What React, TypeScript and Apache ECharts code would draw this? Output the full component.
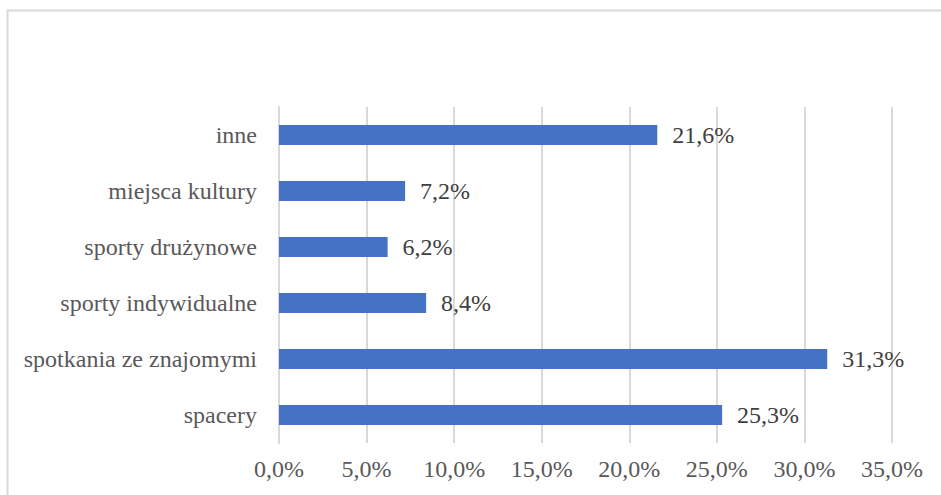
import React, { useEffect, useRef } from "react";
import * as echarts from "echarts";

const categories = ["spacery", "spotkania ze znajomymi", "sporty indywidualne", "sporty drużynowe", "miejsca kultury", "inne"];
const values = [25.3, 31.3, 8.4, 6.2, 7.2, 21.6];
const xTicks = [0, 5, 10, 15, 20, 25, 30, 35];

const FONT = "Liberation Serif";
const fmt = (v: number) => v.toFixed(1).replace(".", ",") + "%";

export default function App() {
  const ref = useRef<HTMLDivElement>(null);
  useEffect(() => {
    const chart = echarts.init(ref.current!, null, { renderer: "svg" });
    chart.setOption({
      animation: false,
      backgroundColor: "#ffffff",
      textStyle: { fontFamily: FONT },
      graphic: [
        {
          type: "rect",
          shape: { x: 7.5, y: 10.5, width: 1000, height: 600 },
          style: { fill: "none", stroke: "#d9d9d9", lineWidth: 2 },
          silent: true,
        },
      ],
      grid: { left: 279, right: 49, top: 107, bottom: 52, containLabel: false },
      xAxis: {
        type: "value",
        min: xTicks[0],
        max: xTicks[xTicks.length - 1],
        interval: 5,
        axisLine: { show: false },
        axisTick: { show: false },
        splitLine: { show: true, lineStyle: { color: "#d9d9d9", width: 2 } },
        axisLabel: {
          formatter: (v: number) => fmt(v),
          color: "#595959",
          fontSize: 24,
          fontFamily: FONT,
          margin: 14,
        },
      },
      yAxis: {
        type: "category",
        data: categories,
        axisLine: { show: true, lineStyle: { color: "#d9d9d9", width: 2 } },
        axisTick: { show: false },
        axisLabel: {
          color: "#595959",
          fontSize: 24,
          fontFamily: FONT,
          margin: 22,
        },
      },
      series: [
        {
          type: "bar",
          data: values,
          barWidth: 20,
          itemStyle: { color: "#4472C4" },
          label: {
            show: true,
            position: "right",
            distance: 15,
            formatter: (p: any) => fmt(p.value),
            color: "#404040",
            fontSize: 24,
            fontFamily: FONT,
          },
        },
      ],
    });
    return () => chart.dispose();
  }, []);
  return (
    <div
      ref={ref}
      style={{ position: "absolute", left: 0, top: 0, width: 941, height: 495 }}
    />
  );
}
